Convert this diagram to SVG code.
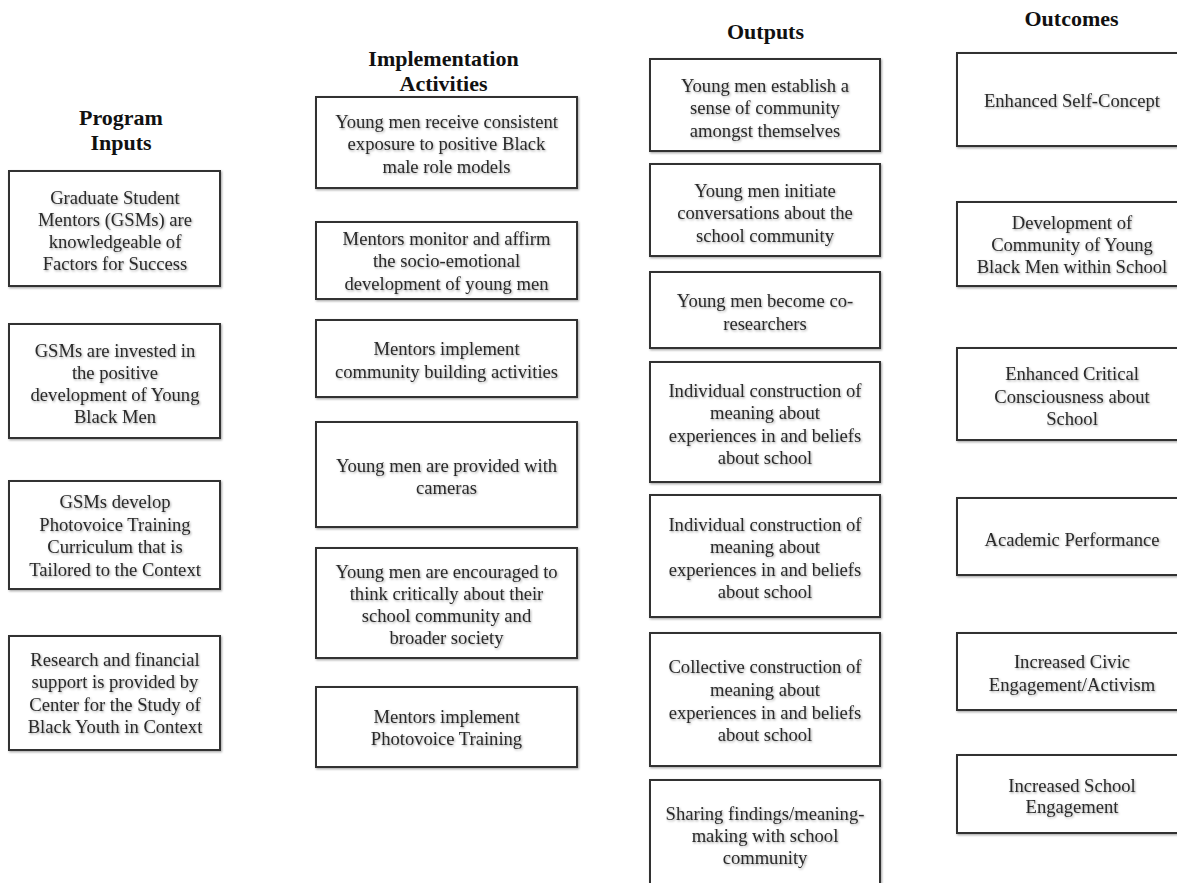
<svg xmlns="http://www.w3.org/2000/svg" width="1177" height="883" viewBox="0 0 1177 883">
<defs>
<filter id="sh" x="-5%" y="-5%" width="110%" height="115%">
<feDropShadow dx="1" dy="1.2" stdDeviation="0.8" flood-color="#000" flood-opacity="0.35"/>
</filter>
<style>
.box{fill:#fff;stroke:#333;stroke-width:2;filter:url(#sh)}
.t{font-family:"Liberation Serif","Times New Roman",serif;font-size:18.6px;fill:#2a2a2a;text-anchor:middle;filter:url(#sh)}
.h{font-family:"Liberation Serif","Times New Roman",serif;font-size:22px;font-weight:bold;fill:#111;text-anchor:middle}
</style>
</defs>
<rect width="1177" height="883" fill="#fff"/>
<g id="headers">
<text class="h" x="121" y="125">Program</text>
<text class="h" x="121" y="150">Inputs</text>
<text class="h" x="443.5" y="66">Implementation</text>
<text class="h" x="443.5" y="91">Activities</text>
<text class="h" x="765.5" y="39">Outputs</text>
<text class="h" x="1071.5" y="26">Outcomes</text>
</g>
<g id="connectors"/>
<!-- Program Inputs -->
<g id="in1"><rect class="box" x="9" y="171" width="211" height="115"/>
<text class="t"><tspan x="115" y="204">Graduate Student</tspan><tspan x="115" y="226">Mentors (GSMs) are</tspan><tspan x="115" y="248">knowledgeable of</tspan><tspan x="115" y="270">Factors for Success</tspan></text></g>
<g id="in2"><rect class="box" x="9" y="324" width="211" height="114"/>
<text class="t"><tspan x="115" y="357">GSMs are invested in</tspan><tspan x="115" y="379">the positive</tspan><tspan x="115" y="401">development of Young</tspan><tspan x="115" y="423">Black Men</tspan></text></g>
<g id="in3"><rect class="box" x="9" y="481" width="211" height="108"/>
<text class="t"><tspan x="115" y="508">GSMs develop</tspan><tspan x="115" y="531">Photovoice Training</tspan><tspan x="115" y="553">Curriculum that is</tspan><tspan x="115" y="576">Tailored to the Context</tspan></text></g>
<g id="in4"><rect class="box" x="9" y="636" width="211" height="114"/>
<text class="t"><tspan x="115" y="666">Research and financial</tspan><tspan x="115" y="688">support is provided by</tspan><tspan x="115" y="711">Center for the Study of</tspan><tspan x="115" y="733">Black Youth in Context</tspan></text></g>
<!-- Implementation Activities -->
<g id="act1"><rect class="box" x="316" y="97" width="261" height="91"/>
<text class="t"><tspan x="446.5" y="128">Young men receive consistent</tspan><tspan x="446.5" y="150">exposure to positive Black</tspan><tspan x="446.5" y="173">male role models</tspan></text></g>
<g id="act2"><rect class="box" x="316" y="222" width="261" height="77"/>
<text class="t"><tspan x="446.5" y="245">Mentors monitor and affirm</tspan><tspan x="446.5" y="267">the socio-emotional</tspan><tspan x="446.5" y="290">development of young men</tspan></text></g>
<g id="act3"><rect class="box" x="316" y="320" width="261" height="77"/>
<text class="t"><tspan x="446.5" y="355">Mentors implement</tspan><tspan x="446.5" y="378">community building activities</tspan></text></g>
<g id="act4"><rect class="box" x="316" y="422" width="261" height="105"/>
<text class="t"><tspan x="446.5" y="472">Young men are provided with</tspan><tspan x="446.5" y="494">cameras</tspan></text></g>
<g id="act5"><rect class="box" x="316" y="548" width="261" height="110"/>
<text class="t"><tspan x="446.5" y="578">Young men are encouraged to</tspan><tspan x="446.5" y="600">think critically about their</tspan><tspan x="446.5" y="622">school community and</tspan><tspan x="446.5" y="644">broader society</tspan></text></g>
<g id="act6"><rect class="box" x="316" y="687" width="261" height="80"/>
<text class="t"><tspan x="446.5" y="723">Mentors implement</tspan><tspan x="446.5" y="745">Photovoice Training</tspan></text></g>
<!-- Outputs -->
<g id="out1"><rect class="box" x="650" y="59" width="230" height="92"/>
<text class="t"><tspan x="765" y="92">Young men establish a</tspan><tspan x="765" y="114">sense of community</tspan><tspan x="765" y="137">amongst themselves</tspan></text></g>
<g id="out2"><rect class="box" x="650" y="164" width="230" height="92"/>
<text class="t"><tspan x="765" y="197">Young men initiate</tspan><tspan x="765" y="219">conversations about the</tspan><tspan x="765" y="242">school community</tspan></text></g>
<g id="out3"><rect class="box" x="650" y="272" width="230" height="76"/>
<text class="t"><tspan x="765" y="307">Young men become co-</tspan><tspan x="765" y="330">researchers</tspan></text></g>
<g id="out4"><rect class="box" x="650" y="362" width="230" height="120"/>
<text class="t"><tspan x="765" y="397">Individual construction of</tspan><tspan x="765" y="419">meaning about</tspan><tspan x="765" y="442">experiences in and beliefs</tspan><tspan x="765" y="464">about school</tspan></text></g>
<g id="out5"><rect class="box" x="650" y="495" width="230" height="122"/>
<text class="t"><tspan x="765" y="531">Individual construction of</tspan><tspan x="765" y="553">meaning about</tspan><tspan x="765" y="576">experiences in and beliefs</tspan><tspan x="765" y="598">about school</tspan></text></g>
<g id="out6"><rect class="box" x="650" y="633" width="230" height="133"/>
<text class="t"><tspan x="765" y="673">Collective construction of</tspan><tspan x="765" y="696">meaning about</tspan><tspan x="765" y="719">experiences in and beliefs</tspan><tspan x="765" y="741">about school</tspan></text></g>
<g id="out7"><rect class="box" x="650" y="780" width="230" height="115"/>
<text class="t"><tspan x="765" y="820">Sharing findings/meaning-</tspan><tspan x="765" y="842">making with school</tspan><tspan x="765" y="864">community</tspan></text></g>
<!-- Outcomes -->
<g id="oc1"><rect class="box" x="957" y="53" width="232" height="93"/>
<text class="t"><tspan x="1072" y="107">Enhanced Self-Concept</tspan></text></g>
<g id="oc2"><rect class="box" x="957" y="202" width="232" height="84"/>
<text class="t"><tspan x="1072" y="229">Development of</tspan><tspan x="1072" y="251">Community of Young</tspan><tspan x="1072" y="273">Black Men within School</tspan></text></g>
<g id="oc3"><rect class="box" x="957" y="348" width="232" height="92"/>
<text class="t"><tspan x="1072" y="380">Enhanced Critical</tspan><tspan x="1072" y="403">Consciousness about</tspan><tspan x="1072" y="425">School</tspan></text></g>
<g id="oc4"><rect class="box" x="957" y="498" width="232" height="77"/>
<text class="t"><tspan x="1072" y="546">Academic Performance</tspan></text></g>
<g id="oc5"><rect class="box" x="957" y="633" width="232" height="77"/>
<text class="t"><tspan x="1072" y="668">Increased Civic</tspan><tspan x="1072" y="691">Engagement/Activism</tspan></text></g>
<g id="oc6"><rect class="box" x="957" y="755" width="232" height="78"/>
<text class="t"><tspan x="1072" y="792">Increased School</tspan><tspan x="1072" y="813">Engagement</tspan></text></g>
</svg>
